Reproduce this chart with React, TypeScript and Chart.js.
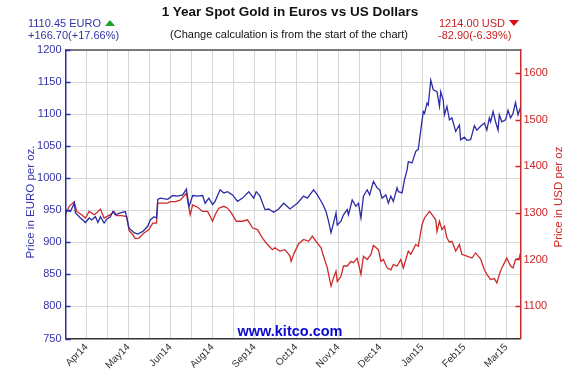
import React, { useEffect, useRef } from 'react';
import { Chart, registerables } from 'chart.js';

Chart.register(...registerables);

// ---- Data ----
const MONTH_LABELS = ['Apr14', 'May14', 'Jun14', 'Aug14', 'Sep14', 'Oct14', 'Nov14', 'Dec14', 'Jan15', 'Feb15', 'Mar15'];
const USD_TICKS = [1100, 1200, 1300, 1400, 1500, 1600];

const EUR_START = 943.75;
const USD_START = 1296.9;
const EUR_LAST = 1110.45;
const USD_LAST = 1214.0;

// days since start of chart
const EUR_DAYS = [
  0, 1, 4, 7, 8, 12, 16, 19, 21, 24, 26, 28, 31, 33, 36, 38, 40, 44, 48, 49, 51, 55, 58, 62, 66, 68, 71, 73,
  74, 76, 82, 86, 90, 94, 97, 99, 100, 102, 106, 110, 112, 115, 118, 120, 124, 127, 130, 134, 138, 142, 147,
  151, 153, 156, 160, 163, 167, 171, 175, 178, 180, 186, 191, 194, 199, 202, 206, 209, 211, 213, 215, 217,
  218, 221, 223, 226, 227, 230, 233, 235, 237, 239, 242, 244, 247, 250, 252, 254, 257, 259, 261, 263, 266,
  267, 270, 272, 274, 275, 278, 281, 283, 285, 287, 288, 290, 291, 293, 295, 298, 300, 301, 303, 304, 306,
  308, 310, 313, 316, 317, 320, 322, 325, 328, 330, 333, 336, 338, 340, 341, 343, 345, 347, 348, 350, 353,
  355, 357, 359, 361, 363, 365,
];
const EUR_PRICES = [
  943.75, 950, 948, 961, 946, 938, 931, 938, 935, 940, 931, 940, 930, 936, 940, 948, 943, 946, 948, 940, 922,
  915, 913, 917, 925, 935, 940, 938,
  967, 969, 967, 973, 972, 974, 983, 956, 961, 973, 972, 973, 961, 969, 959, 964, 982, 977, 979, 974, 964, 969, 979,
  969, 979, 972, 951, 952, 947, 952, 961, 956, 952, 961, 972, 969, 982, 974, 961, 948, 933, 915, 930, 946,
  927, 933, 943, 951, 943, 966, 956, 961, 938, 972, 982, 974, 995, 985, 982, 969, 974, 961, 972, 964, 985,
  979, 977, 998, 1013, 1026, 1024, 1042, 1045, 1075, 1104, 1101, 1117, 1114, 1153, 1138, 1135, 1112, 1135, 1122, 1099, 1112,
  1091, 1094, 1073, 1083, 1060, 1064, 1059, 1060, 1082, 1075, 1081, 1086, 1075, 1094, 1088, 1104, 1088, 1075, 1099, 1088, 1091,
  1106, 1094, 1101, 1118, 1099, 1110.45,
];

const USD_DAYS = [
  0, 3, 7, 9, 13, 16, 19, 23, 25, 28, 31, 33, 36, 39, 41, 45, 49, 51, 54, 56, 59, 63, 67, 70, 73,
  74, 78, 82, 84, 88, 92, 97, 100, 102, 106, 110, 114, 118, 120, 123, 127, 130, 133, 137, 142, 146, 150, 154,
  158, 162, 166, 168, 172, 176, 180, 181, 183, 187, 191, 195, 198, 201, 205, 207, 210, 213, 215, 217, 218, 221,
  223, 226, 229, 231, 234, 237, 239, 242, 245, 247, 251, 253, 255, 258, 261, 263, 266, 269, 271, 275, 277, 281,
  283, 286, 288, 292, 294, 297, 298, 300, 302, 304, 306, 308, 310, 313, 316, 318, 322, 326, 329, 333, 336, 338,
  341, 344, 346, 348, 350, 354, 357, 359, 361, 364, 365,
];
const USD_PRICES = [
  1296.9, 1314, 1324, 1303, 1296, 1289, 1303, 1296, 1300, 1308, 1289, 1292, 1296, 1303, 1294, 1294, 1292, 1262, 1253, 1245, 1246, 1257, 1264, 1278, 1278,
  1321, 1321, 1321, 1324, 1324, 1327, 1342, 1296, 1317, 1312, 1303, 1303, 1282, 1296, 1310, 1314, 1310, 1300, 1282, 1282, 1285, 1268, 1264,
  1246, 1232, 1221, 1225, 1218, 1221, 1208, 1196, 1211, 1234, 1243, 1239, 1250, 1239, 1225, 1207, 1182, 1143, 1161, 1175, 1153, 1164,
  1186, 1186, 1196, 1193, 1203, 1168, 1207, 1200, 1211, 1230, 1221, 1196, 1200, 1182, 1178, 1189, 1186, 1200, 1182, 1218, 1211, 1232,
  1228, 1275, 1289, 1303, 1296, 1285, 1260, 1282, 1264, 1271, 1246, 1237, 1239, 1218, 1232, 1211, 1207, 1203, 1214, 1201, 1178, 1168,
  1157, 1159, 1150, 1168, 1182, 1203, 1186, 1182, 1200, 1203, 1214,
];

// ---- Axis config ----
const DAY_SPAN = 365;
const GRID_DAYS = 16.834; // spacing of vertical grid lines, in days
const EUR_MIN = 750;
const EUR_MAX = 1200;
const FX = USD_START / EUR_START;

const BLUE = '#2c2ca6';
const BLUE_TEXT = '#3333aa';
const RED = '#cc2a2a';
const RED_TEXT = '#cc2222';
const GRID = '#d6d6d6';
const FONT = '"Liberation Sans", Arial, Helvetica, sans-serif';

const decorPlugin = {
  id: 'decor',
  afterDraw(chart: any) {
    const { ctx, chartArea } = chart;
    const { left, right, top } = chartArea;
    const yE = chart.scales.yEur;
    const yU = chart.scales.yUsd;
    ctx.save();
    ctx.lineWidth = 1.5;
    ctx.strokeStyle = '#555555';
    ctx.beginPath();
    ctx.moveTo(left, top);
    ctx.lineTo(right, top);
    ctx.stroke();
    ctx.strokeStyle = BLUE;
    ctx.beginPath();
    yE.ticks.forEach((t: any) => {
      const y = Math.round(yE.getPixelForValue(t.value)) + 0.5;
      ctx.moveTo(left, y);
      ctx.lineTo(left + 5, y);
    });
    ctx.stroke();
    ctx.strokeStyle = RED;
    ctx.beginPath();
    yU.ticks.forEach((t: any) => {
      const y = Math.round(yU.getPixelForValue(t.value)) + 0.5;
      ctx.moveTo(right - 5, y);
      ctx.lineTo(right, y);
    });
    ctx.stroke();
    ctx.restore();
  },
};

function pts(days: number[], vals: number[]) {
  return days.map((d, i) => ({ x: d, y: vals[i] }));
}

function fmtChange(last: number, start: number) {
  const d = last - start;
  const p = (d / start) * 100;
  const s = d >= 0 ? '+' : '';
  return `${s}${d.toFixed(2)}(${s}${p.toFixed(2)}%)`;
}

export default function App() {
  const ref = useRef<HTMLCanvasElement | null>(null);

  useEffect(() => {
    if (!ref.current) return;
    const chart = new Chart(ref.current, {
      type: 'line',
      data: {
        datasets: [
          {
            label: 'EUR',
            data: pts(EUR_DAYS, EUR_PRICES),
            borderColor: BLUE,
            borderWidth: 1.3,
            pointRadius: 0,
            yAxisID: 'yEur',
            tension: 0,
          },
          {
            label: 'USD',
            data: pts(USD_DAYS, USD_PRICES),
            borderColor: RED,
            borderWidth: 1.3,
            pointRadius: 0,
            yAxisID: 'yUsd',
            tension: 0,
          },
        ],
      },
      options: {
        animation: false,
        responsive: false,
        layout: { padding: { top: 50, left: 0, right: 0, bottom: 0 } },
        plugins: { legend: { display: false }, tooltip: { enabled: false }, title: { display: false } },
        scales: {
          x: {
            type: 'linear',
            min: 0,
            max: DAY_SPAN,
            afterBuildTicks: (s: any) => {
              const t = [];
              for (let k = 0; k * GRID_DAYS <= DAY_SPAN; k++) t.push({ value: k * GRID_DAYS });
              s.ticks = t;
            },
            afterFit: (s: any) => {
              s.height = 31.5;
            },
            grid: { color: GRID, lineWidth: 1, drawTicks: false },
            border: { color: '#333333', width: 1.5 },
            ticks: {
              autoSkip: false,
              maxRotation: 45,
              minRotation: 45,
              padding: 3,
              color: '#333333',
              font: { family: FONT, size: 10 },
              callback: (_v: any, i: number) => (i % 2 === 1 ? MONTH_LABELS[(i - 1) / 2] ?? '' : ''),
            },
          },
          yEur: {
            type: 'linear',
            position: 'left',
            min: EUR_MIN,
            max: EUR_MAX,
            afterFit: (s: any) => {
              s.width = 65.5;
            },
            grid: { color: GRID, lineWidth: 1, drawTicks: false },
            border: { color: BLUE, width: 1.5 },
            ticks: {
              stepSize: 50,
              padding: 4,
              color: BLUE_TEXT,
              font: { family: FONT, size: 11 },
              callback: (v: any) => String(v),
            },
          },
          yUsd: {
            type: 'linear',
            position: 'right',
            min: EUR_MIN * FX,
            max: EUR_MAX * FX,
            afterBuildTicks: (s: any) => {
              s.ticks = USD_TICKS.map((v) => ({ value: v }));
            },
            afterFit: (s: any) => {
              s.width = 59.5;
            },
            grid: { display: false, drawTicks: false },
            border: { color: RED, width: 1.5 },
            ticks: {
              padding: 3,
              color: RED_TEXT,
              font: { family: FONT, size: 11 },
              callback: (v: any) => String(v),
            },
          },
        },
      },
      plugins: [decorPlugin],
    } as any);
    return () => chart.destroy();
  }, []);

  const abs: React.CSSProperties = { position: 'absolute', fontFamily: FONT, whiteSpace: 'nowrap', lineHeight: 1 };
  const vtitle = (cx: number, cy: number): React.CSSProperties => ({
    ...abs,
    left: cx - 100,
    top: cy - 7,
    width: 200,
    height: 14,
    lineHeight: '14px',
    textAlign: 'center',
    transform: 'rotate(-90deg)',
    fontSize: 11.5,
  });

  return (
    <div style={{ position: 'absolute', left: 0, top: 0, width: 580, height: 370, background: '#ffffff', overflow: 'hidden' }}>
      <canvas ref={ref} width={580} height={370} style={{ position: 'absolute', left: 0, top: 0 }} />
      <div style={{ ...abs, left: 90, top: 5, width: 400, textAlign: 'center', fontSize: 13.5, fontWeight: 'bold', color: '#111' }}>
        1 Year Spot Gold in Euros vs US Dollars
      </div>
      <div style={{ ...abs, left: 89, top: 29, width: 400, textAlign: 'center', fontSize: 11, color: '#111' }}>
        (Change calculation is from the start of the chart)
      </div>
      <div style={{ ...abs, left: 28, top: 18, fontSize: 11, color: BLUE_TEXT }}>
        {EUR_LAST.toFixed(2)} EURO{' '}
        <span style={{ display: 'inline-block', width: 0, height: 0, borderLeft: '5px solid transparent', borderRight: '5px solid transparent', borderBottom: '6px solid #22a022', verticalAlign: 'middle', marginLeft: 1, marginTop: -3 }} />
      </div>
      <div style={{ ...abs, left: 28, top: 30, fontSize: 11, color: BLUE_TEXT }}>{fmtChange(EUR_LAST, EUR_START)}</div>
      <div style={{ ...abs, left: 439, top: 18, fontSize: 11, color: RED_TEXT }}>
        {USD_LAST.toFixed(2)} USD{' '}
        <span style={{ display: 'inline-block', width: 0, height: 0, borderLeft: '5px solid transparent', borderRight: '5px solid transparent', borderTop: '6px solid #dd1111', verticalAlign: 'middle', marginLeft: 1, marginTop: -3 }} />
      </div>
      <div style={{ ...abs, left: 438, top: 30, fontSize: 11, color: RED_TEXT }}>{fmtChange(USD_LAST, USD_START)}</div>
      <div style={{ ...vtitle(30, 202), color: BLUE_TEXT }}>Price in EURO per oz.</div>
      <div style={{ ...vtitle(558, 197), color: RED_TEXT }}>Price in USD per oz</div>
      <div style={{ ...abs, left: 190, top: 324, width: 200, textAlign: 'center', fontSize: 14.5, fontWeight: 'bold', color: '#0a0ad0' }}>
        www.kitco.com
      </div>
    </div>
  );
}
